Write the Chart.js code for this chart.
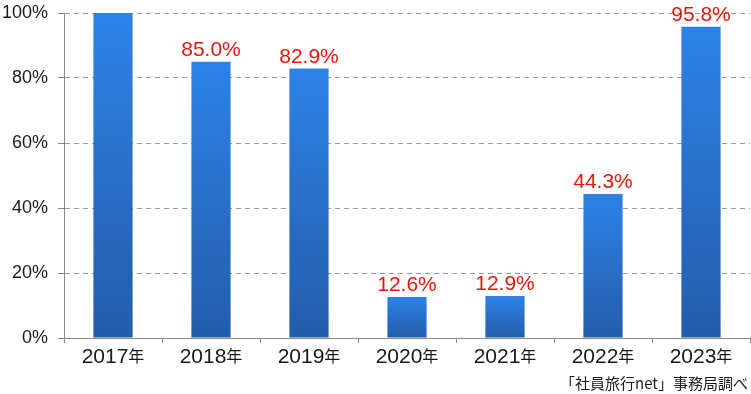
<!DOCTYPE html>
<html>
<head>
<meta charset="utf-8">
<script src="https://cdn.jsdelivr.net/npm/chart.js@4"></script>
<style>
  html, body { margin: 0; padding: 0; background: #fff; }
</style>
</head>
<body>
<canvas id="chart" width="751" height="394"></canvas>
<script>
const years = ['2017', '2018', '2019', '2020', '2021', '2022', '2023'];
const rates = [100, 85.0, 82.9, 12.6, 12.9, 44.3, 95.8];
const rateLabels = [null, '85.0%', '82.9%', '12.6%', '12.9%', '44.3%', '95.8%'];
const yTicks = [0, 20, 40, 60, 80, 100];
const sourceNote = '「社員旅行net」事務局調べ';

const FONT = '"Liberation Sans", Arial, sans-serif';
const CJK = '"Noto Sans CJK JP", sans-serif';

// each bar gets its own top->bottom gradient
function barGradient(context) {
    const chart = context.chart;
    const ys = chart.scales.y;
    if (!chart.chartArea || !ys) return '#2a72d6';
    const top = ys.getPixelForValue(rates[context.dataIndex]);
    const bottom = ys.getPixelForValue(0);
    if (!isFinite(top) || !isFinite(bottom) || top === bottom) return '#2a72d6';
    const g = chart.ctx.createLinearGradient(0, top, 0, bottom);
    g.addColorStop(0, '#2d82e8');
    g.addColorStop(1, '#235daa');
    return g;
}

const labelsPlugin = {
    id: 'labelsPlugin',
    afterDraw(chart) {
        const ctx = chart.ctx;
        ctx.save();
        // values above bars
        ctx.fillStyle = '#e5170a';
        ctx.font = '21px ' + FONT;
        ctx.textAlign = 'center';
        ctx.textBaseline = 'alphabetic';
        chart.getDatasetMeta(0).data.forEach((bar, i) => {
            if (!rateLabels[i]) return;
            ctx.fillText(rateLabels[i], bar.x, bar.y - 6);
        });
        // x labels: year + smaller 年
        const xs = chart.scales.x;
        ctx.fillStyle = '#1a1a1a';
        ctx.textAlign = 'left';
        years.forEach((y, i) => {
            const cx = xs.getPixelForTick(i);
            ctx.font = '21px ' + FONT;
            const w1 = ctx.measureText(y).width;
            ctx.font = '16px ' + CJK;
            const w2 = ctx.measureText('年').width;
            const x0 = cx - (w1 + w2) / 2;
            ctx.font = '21px ' + FONT;
            ctx.fillText(y, x0, 363);
            ctx.font = '16px ' + CJK;
            ctx.fillText('年', x0 + w1, 362);
        });
        // source note
        ctx.textAlign = 'right';
        ctx.font = '15px ' + CJK;
        ctx.fillText(sourceNote, 748, 389);
        ctx.restore();
    }
};

new Chart(document.getElementById('chart').getContext('2d'), {
    type: 'bar',
    data: {
        labels: years.map(y => y + '年'),
        datasets: [{
            data: rates,
            backgroundColor: barGradient,
            borderWidth: 0,
            categoryPercentage: 1,
            barPercentage: 0.4
        }]
    },
    options: {
        responsive: false,
        animation: false,
        devicePixelRatio: 1,
        layout: { padding: { top: 13, right: 1, left: 0, bottom: 0 } },
        plugins: {
            legend: { display: false },
            tooltip: { enabled: false }
        },
        scales: {
            x: {
                grid: {
                    display: true,
                    drawOnChartArea: false,
                    drawTicks: true,
                    tickLength: 5,
                    offset: true,
                    color: '#888'
                },
                border: { color: '#888', width: 1 },
                ticks: { color: 'rgba(0,0,0,0)', font: { size: 18, family: FONT } },
                afterFit(scale) { scale.height = 56; scale.paddingLeft = 0; scale.paddingRight = 0; }
            },
            y: {
                min: 0,
                max: 100,
                afterBuildTicks(scale) { scale.ticks = yTicks.map(v => ({ value: v })); },
                grid: {
                    color: '#999',
                    tickLength: 6,
                    tickColor: '#888',
                    tickBorderDash: [],
                },
                border: { color: '#888', width: 1, dash: [5, 4] },
                ticks: {
                    color: '#1a1a1a',
                    padding: 10,
                    font: { size: 18, family: FONT },
                    callback: v => v + '%'
                },
                afterFit(scale) { scale.width = 64; scale.paddingTop = 0; scale.paddingBottom = 0; }
            }
        }
    },
    plugins: [labelsPlugin]
});
</script>
</body>
</html>
